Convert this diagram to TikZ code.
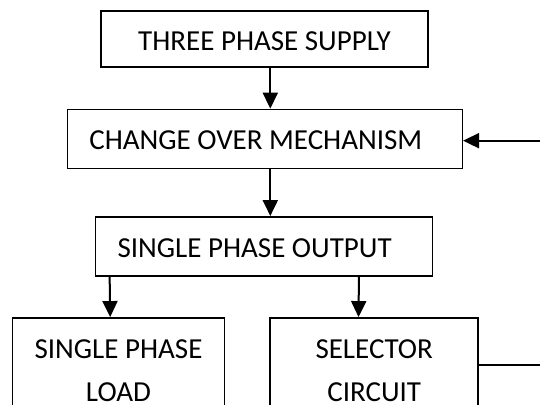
\documentclass[tikz,border=0pt]{standalone}
\usepackage{fontspec}
\setmainfont{Carlito}
\usetikzlibrary{arrows.meta,calc}
\tikzset{blk/.style={draw,line width=1.5pt,align=center,inner sep=0pt,font=\fontsize{29}{43}\selectfont},
one/.style={text height=22pt,text depth=0pt},
arr/.style={-{Triangle[length=16pt,width=15pt]},line width=2pt},
wire/.style={line width=1.6pt}}

\begin{document}
\begin{tikzpicture}[x=1pt,y=-1pt]
\useasboundingbox (0,0) rectangle (540,404);
\clip (0,0) rectangle (540,404);
\node[blk,one,minimum width=327pt,minimum height=56pt] (supply) at (264.5,39) {THREE PHASE SUPPLY};
\node[blk,one,minimum width=395pt,minimum height=59pt] (changeover) at (264.8,138.9) {CHANGE OVER MECHANISM\hspace*{18pt}};
\node[blk,one,minimum width=337pt,minimum height=59pt] (output) at (264.1,246.3) {SINGLE PHASE OUTPUT\hspace*{19pt}};
\node[blk,minimum width=212pt,minimum height=106pt] (load) at (118.5,370.8) {SINGLE PHASE\\LOAD};
\node[blk,minimum width=208pt,minimum height=106pt] (selector) at (374.2,370.8) {SELECTOR\\CIRCUIT};
\coordinate (fbout) at (540,365);
\coordinate (fbin) at (540,140.7);
\draw[arr] ($(supply.south)+(5.8,0)$) -- ($(changeover.north)+(5.5,0)$);
\draw[arr] ($(changeover.south)+(5.5,0)$) -- ($(output.north)+(6.2,0)$);
\draw[arr] ($(output.south west)+(14.8,0)$) -- ($(load.north)+(-8.3,0)$);
\draw[arr] ($(output.south east)+(-74.4,0)$) -- ($(selector.north)+(-15.7,0)$);
\draw[wire] ($(selector.east)+(0,-5.8)$) -- (fbout);
\draw[arr] (fbin) -- ($(changeover.east)+(0,1.8)$);
\end{tikzpicture}
\end{document}
